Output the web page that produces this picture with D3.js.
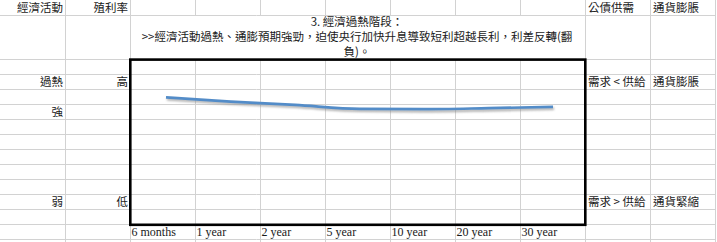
<!DOCTYPE html>
<html>
<head>
<meta charset="utf-8">
<script src="https://cdn.jsdelivr.net/npm/d3@7"></script>
<style>
  body { margin: 0; background: #fff; }
  svg { display: block; }
  .cell { font-family: "Noto Sans CJK TC", sans-serif; font-size: 11.5px; fill: #1a1a1a; }
  .xaxis text { font-family: "Liberation Serif", serif; font-size: 12px; fill: #1a1a1a; }
</style>
</head>
<body>
<div id="chart"></div>
<script>
// Yield curve sketched on top of a spreadsheet grid

const maturities = ['6 months', '1 year', '2 year', '5 year', '10 year', '20 year', '30 year'];
const yields = [3.84, 3.71, 3.61, 3.49, 3.48, 3.51, 3.55];

const titleLines = [
  '3. 經濟過熱階段：',
  '>>經濟活動過熱、通膨預期強勁，迫使央行加快升息導致短利超越長利，利差反轉(翻',
  '負)。'
];

// sheet cells: [col, row, text, align]
const cells = [
  [0, 0, '經濟活動', 'end'], [1, 0, '殖利率', 'end'], [9, 0, '公債供需', 'start'], [10, 0, '通貨膨脹', 'start'],
  [0, 3, '過熱', 'end'], [1, 3, '高', 'end'], [9, 3, '需求 < 供給', 'start'], [10, 3, '通貨膨脹', 'start'],
  [0, 5, '強', 'end'],
  [0, 11, '弱', 'end'], [1, 11, '低', 'end'], [9, 11, '需求 > 供給', 'start'], [10, 11, '通貨緊縮', 'start']
];

const width = 717, height = 242;
const colW = 65, nCols = 11;
// row boundaries (row 2 is the tall title row)
const rowEdges = [0, 15, 59, 74, 89, 104, 119, 134, 149, 164, 179, 194, 209, 224, 239];

const svg = d3.select('#chart').append('svg')
  .attr('width', width)
  .attr('height', height);

// grid
const grid = svg.append('g').attr('stroke', '#d2d2d2').attr('stroke-width', 1);
for (let k = 1; k <= nCols; k++) {
  const x = k * colW + 0.5;
  if (k >= 3 && k <= 8) {
    // merged title cell across columns C..H
    grid.append('line').attr('x1', x).attr('x2', x).attr('y1', 0).attr('y2', rowEdges[1]);
    grid.append('line').attr('x1', x).attr('x2', x).attr('y1', rowEdges[2]).attr('y2', height);
  } else {
    grid.append('line').attr('x1', x).attr('x2', x).attr('y1', 0).attr('y2', height);
  }
}
rowEdges.slice(1).forEach(y => {
  grid.append('line').attr('x1', 0).attr('x2', nCols * colW + 1).attr('y1', y + 0.5).attr('y2', y + 0.5);
});

// cell texts
const rowMid = r => (rowEdges[r] + rowEdges[r + 1]) / 2;
svg.append('g').selectAll('text')
  .data(cells)
  .join('text')
  .attr('class', 'cell')
  .attr('x', d => d[3] === 'end' ? (d[0] + 1) * colW - 2 : d[0] * colW + 3)
  .attr('y', d => rowMid(d[1]))
  .attr('dy', '0.36em')
  .attr('text-anchor', d => d[3])
  .text(d => d[2]);

// title in merged cell
const titleX = (2 * colW + 9 * colW) / 2 - 0.5;
svg.append('g').selectAll('text')
  .data(titleLines)
  .join('text')
  .attr('class', 'cell')
  .attr('x', titleX)
  .attr('y', (d, i) => 22 + i * 15)
  .attr('dy', '0.36em')
  .attr('text-anchor', 'middle')
  .text(d => d);

// chart
const x = d3.scalePoint().domain(maturities).range([166, 553]);
const y = d3.scaleLinear().domain([0, 5]).range([224, 59]);
const cellX = d3.scaleBand().domain(maturities).range([2 * colW, 9 * colW]);

const defs = svg.append('defs');
defs.append('filter').attr('id', 'blur').attr('x', '-5%').attr('y', '-50%').attr('width', '110%').attr('height', '200%')
  .append('feGaussianBlur').attr('stdDeviation', 1.2);

const line = d3.line()
  .x((d, i) => x(maturities[i]))
  .y(d => y(d))
  .curve(d3.curveMonotoneX);

svg.append('path')
  .datum(yields)
  .attr('d', line)
  .attr('fill', 'none')
  .attr('stroke', '#8a8a8a')
  .attr('stroke-opacity', 0.7)
  .attr('stroke-width', 2.5)
  .attr('transform', 'translate(1,2)')
  .attr('filter', 'url(#blur)');

svg.append('path')
  .datum(yields)
  .attr('d', line)
  .attr('fill', 'none')
  .attr('stroke', '#538cc8')
  .attr('stroke-width', 2.7);

// chart frame
svg.append('rect')
  .attr('x', 130.3).attr('y', 59.6)
  .attr('width', 455).attr('height', 165.2)
  .attr('fill', 'none')
  .attr('stroke', '#000')
  .attr('stroke-width', 2.6);

// category labels sit in the cells under the chart
svg.append('g')
  .attr('class', 'xaxis')
  .attr('transform', `translate(0,${rowMid(13)})`)
  .call(d3.axisBottom(cellX).tickSize(0).tickPadding(0))
  .call(g => g.select('.domain').remove())
  .call(g => g.selectAll('text')
    .attr('text-anchor', 'start')
    .attr('x', -cellX.bandwidth() / 2 + 1.5)
    .attr('y', 0)
    .attr('dy', '0.35em'));
</script>
</body>
</html>
